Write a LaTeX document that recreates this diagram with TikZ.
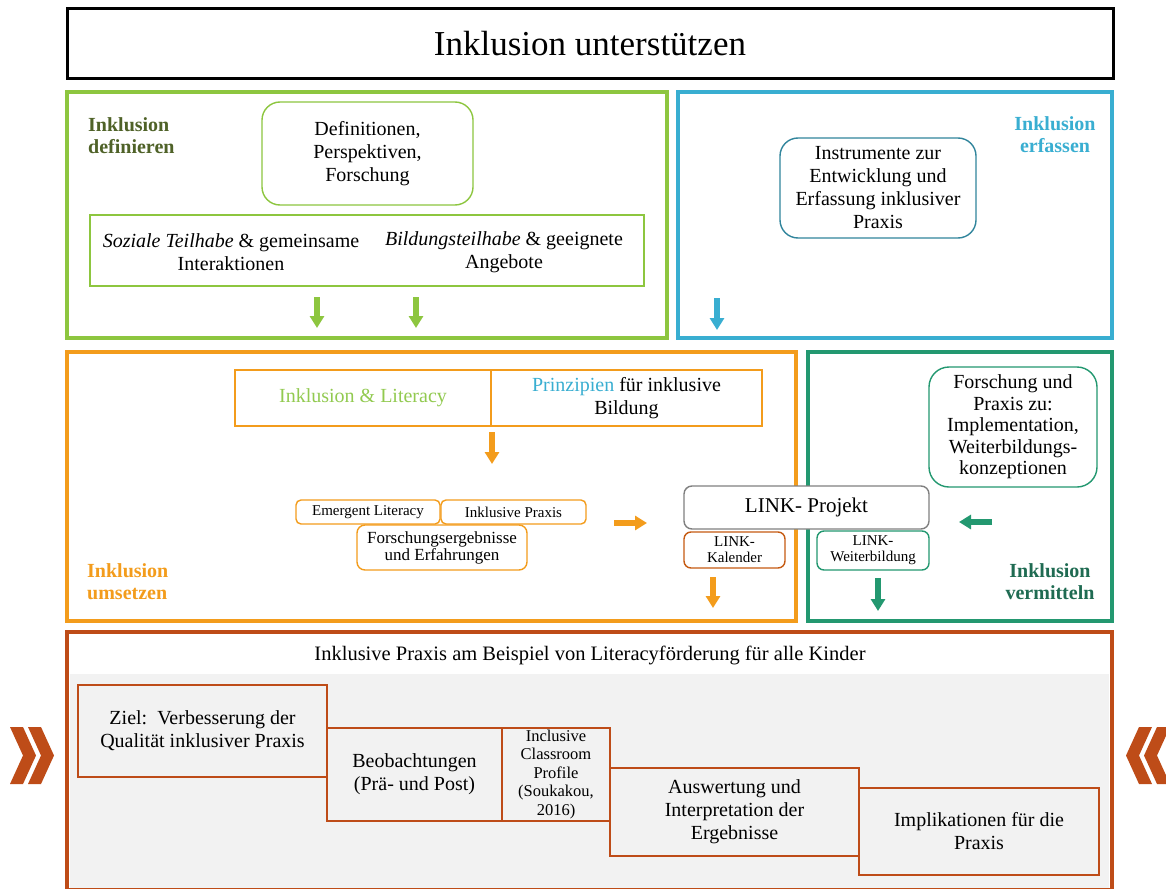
\documentclass[tikz,border=0pt]{standalone}
\usepackage{fontspec}
\setmainfont{Liberation Serif}
\usetikzlibrary{arrows.meta}

\definecolor{lgreen}{RGB}{141,198,63}
\definecolor{olivegreen}{RGB}{79,98,40}
\definecolor{skyblue}{RGB}{57,174,209}
\definecolor{tealblue}{RGB}{49,133,156}
\definecolor{orangec}{RGB}{243,156,28}
\definecolor{rust}{RGB}{197,90,17}
\definecolor{brownc}{RGB}{190,76,24}
\definecolor{dgreen}{RGB}{35,152,112}
\definecolor{dgreenlab}{RGB}{31,107,82}
\definecolor{litgreen}{RGB}{146,202,80}
\definecolor{linkgray}{RGB}{128,128,128}
\definecolor{panelgray}{RGB}{242,242,242}

\begin{document}
\begin{tikzpicture}[x=1pt,y=-1pt,
  frame/.style={draw, line width=3.5pt, inner sep=0pt},
  tbox/.style={draw, line width=1.4pt, align=center, inner sep=0pt,
    font=\fontsize{20}{23}\selectfont},
  plain/.style={align=center, inner sep=0pt, font=\fontsize{20}{23}\selectfont},
  lab/.style={align=center, inner sep=0pt, font=\fontsize{20}{22}\selectfont\bfseries},
  small/.style={font=\fontsize{15}{16}\selectfont},
  arr/.style={line width=5.5pt, -{Triangle[width=14pt,length=12pt]}},
  stair/.style={tbox, draw=brownc, fill=panelgray, line width=1.3pt}
]
\useasboundingbox (0,0) rectangle (1166,888);
\fill[white] (0,0) rectangle (1166,888);

% ---------- title ----------
\node[frame, line width=3pt, minimum width=1046, minimum height=70,
  font=\fontsize{35}{40}\selectfont] (title) at (590,44) {Inklusion unterstützen};

% ---------- Inklusion definieren ----------
\node[frame, draw=lgreen, minimum width=600, minimum height=246] (def) at (367,215) {};
\node[lab, text=olivegreen, anchor=west, align=left] (deflab) at (88,136) {Inklusion\\definieren};
\node[tbox, draw=lgreen, rounded corners=18pt, minimum width=211, minimum height=103]
  (defin) at (367.5,153.5) {Definitionen,\\Perspektiven,\\Forschung};
\node[tbox, draw=lgreen, minimum width=554, minimum height=71] (teil) at (367,250.5) {};
\node[plain] (teilL) at (231,252) {\textit{Soziale Teilhabe} \& gemeinsame\\Interaktionen};
\node[plain] (teilR) at (504,252) {\textit{Bildungsteilhabe} \& geeignete\\Angebote};
\coordinate (g1s) at (317,297); \coordinate (g1e) at (317,328);
\coordinate (g2s) at (416,297); \coordinate (g2e) at (416,328);
\draw[arr, lgreen] (g1s) -- (g1e);
\draw[arr, lgreen] (g2s) -- (g2e);

% ---------- Inklusion erfassen ----------
\node[frame, draw=skyblue, minimum width=434, minimum height=246] (erf) at (895,215) {};
\node[lab, text=skyblue] (erflab) at (1055,135) {Inklusion\\erfassen};
\node[tbox, draw=tealblue, rounded corners=18pt, minimum width=196, minimum height=100]
  (instr) at (878,188) {Instrumente zur\\Entwicklung und\\Erfassung inklusiver\\Praxis};
\coordinate (b1s) at (717,298); \coordinate (b1e) at (717,330);
\draw[arr, skyblue] (b1s) -- (b1e);

% ---------- Inklusion umsetzen ----------
\node[frame, draw=orangec, minimum width=729, minimum height=269] (ums) at (431.5,486.5) {};
\node[lab, text=orangec, anchor=west, align=left] (umslab) at (87,582) {Inklusion\\umsetzen};
\node[tbox, draw=orangec, minimum width=256, minimum height=56, text=litgreen]
  (litL) at (363,398) {Inklusion \& Literacy};
\node[tbox, draw=orangec, minimum width=271, minimum height=56]
  (litR) at (626.5,398) {\textcolor{skyblue}{Prinzipien} für inklusive\\Bildung};
\coordinate (o1s) at (492,432); \coordinate (o1e) at (492,464);
\draw[arr, orangec] (o1s) -- (o1e);
\node[tbox, small, draw=orangec, rounded corners=5pt, minimum width=144, minimum height=24]
  (emerg) at (368,512) {Emergent Literacy};
\node[tbox, small, draw=orangec, rounded corners=5pt, minimum width=145, minimum height=24]
  (inkpr) at (513.5,512) {Inklusive Praxis};
\node[tbox, draw=orangec, rounded corners=8pt, minimum width=170, minimum height=45,
  font=\fontsize{17}{17}\selectfont]
  (fe) at (442,547.5) {Forschungsergebnisse\\und Erfahrungen};
\coordinate (o2s) at (614,523); \coordinate (o2e) at (647,523);
\draw[arr, orangec] (o2s) -- (o2e);
\node[tbox, small, draw=rust, rounded corners=7pt, minimum width=101, minimum height=36]
  (kal) at (734.5,550) {LINK-\\Kalender};
\coordinate (o3s) at (713,577); \coordinate (o3e) at (713,608);
\draw[arr, orangec] (o3s) -- (o3e);

% ---------- Inklusion vermitteln ----------
\node[frame, draw=dgreen, minimum width=304, minimum height=269] (verm) at (960,486.5) {};
\node[lab, text=dgreenlab] (vermlab) at (1050,582) {Inklusion\\vermitteln};
\node[tbox, draw=dgreen, rounded corners=20pt, minimum width=168, minimum height=120,
  font=\fontsize{20}{21.5}\selectfont]
  (fp) at (1013,427) {Forschung und\\Praxis zu:\\Implementation,\\Weiterbildungs-\\konzeptionen};
\coordinate (d1s) at (992,522); \coordinate (d1e) at (959,522);
\draw[arr, dgreen] (d1s) -- (d1e);
\node[tbox, small, draw=dgreen, rounded corners=7pt, minimum width=112, minimum height=39]
  (wb) at (873,550.5) {LINK-\\Weiterbildung};
\coordinate (d2s) at (878,578); \coordinate (d2e) at (878,611);
\draw[arr, dgreen] (d2s) -- (d2e);

% ---------- LINK-Projekt (spans both panels) ----------
\node[tbox, draw=linkgray, fill=white, rounded corners=8pt, minimum width=245, minimum height=43,
  font=\fontsize{21}{24}\selectfont] (link) at (806.5,507.5) {LINK- Projekt};

% ---------- bottom panel ----------
\fill[panelgray] (70,674) rectangle (1109,890);
\node[frame, draw=brownc, minimum width=1045, minimum height=258] (bottom) at (589.5,761) {};
\node[plain, font=\fontsize{20.5}{23}\selectfont] (btitle) at (590,655)
  {Inklusive Praxis am Beispiel von Literacyförderung für alle Kinder};
\node[stair, minimum width=249, minimum height=92] (ziel) at (202.5,731)
  {Ziel:\ \ Verbesserung der\\Qualität inklusiver Praxis};
\node[stair, minimum width=175, minimum height=93] (beob) at (414.5,774.5)
  {Beobachtungen\\(Prä- und Post)};
\node[stair, minimum width=108, minimum height=93, font=\fontsize{16.5}{18.5}\selectfont]
  (icp) at (556,774.5) {Inclusive\\Classroom\\Profile\\(Soukakou,\\2016)};
\node[stair, minimum width=249, minimum height=88] (ausw) at (734.5,812)
  {Auswertung und\\Interpretation der\\Ergebnisse};
\node[stair, minimum width=240, minimum height=87] (impl) at (979,831.5)
  {Implikationen für die\\Praxis};

% ---------- chevrons ----------
\foreach \x in {10,28}{
  \fill[brownc] (\x,727) -- (\x+13,727) -- (\x+26,755.5) -- (\x+13,784) -- (\x,784) -- (\x+13,755.5) -- cycle;
}
\foreach \x in {1152,1170}{
  \fill[brownc] (\x,727) -- (\x-13,727) -- (\x-26,755.5) -- (\x-13,784) -- (\x,784) -- (\x-13,755.5) -- cycle;
}
\end{tikzpicture}
\end{document}
